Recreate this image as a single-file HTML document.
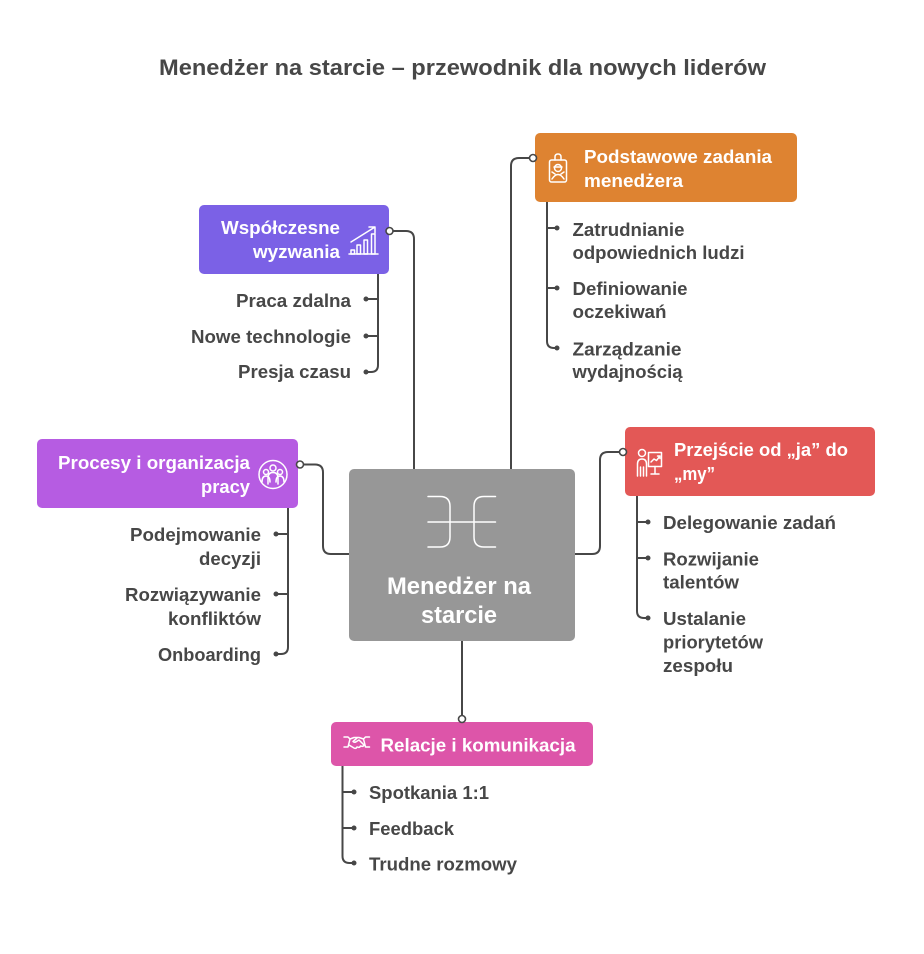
<!DOCTYPE html>
<html><head><meta charset="utf-8"><style>
html,body{margin:0;padding:0;background:#fff;}
svg{display:block;}
text{font-family:"Liberation Sans","DejaVu Sans",sans-serif;font-weight:bold;}
.t{font-size:18px;fill:#474747;}
.h{font-size:18px;fill:#fff;}
.ln{fill:none;stroke:#474747;stroke-width:2;}
.ic{fill:none;stroke:#fff;stroke-width:1.5;stroke-linecap:round;stroke-linejoin:round;}
</style></head><body>
<svg width="924" height="954" viewBox="0 0 924 954" xmlns="http://www.w3.org/2000/svg">
<rect width="924" height="954" fill="#fff"/>
<text x="159" y="75" font-size="22" fill="#474747" textLength="607" lengthAdjust="spacingAndGlyphs">Menedżer na starcie – przewodnik dla nowych liderów</text>

<!-- main connectors -->
<path class="ln" d="M393 231 H406 Q414 231 414 239 V469"/>
<path class="ln" d="M529 158 H519 Q511 158 511 166 V469"/>
<path class="ln" d="M304 464.5 H315 Q323 464.5 323 472.5 V546 Q323 554 331 554 H349"/>
<path class="ln" d="M619 452 H608 Q600 452 600 460 V546 Q600 554 592 554 H575"/>
<path class="ln" d="M462 641 V715"/>

<!-- central -->
<rect x="349" y="469" width="226" height="172" rx="5" fill="#979797"/>
<path class="ic" d="M428 496.5 H440 Q450 496.5 450 506.5 V537 Q450 547 440 547 H428"/>
<path class="ic" d="M495.5 496.5 H484 Q474 496.5 474 506.5 V537 Q474 547 484 547 H495.5"/>
<path class="ic" d="M428 522 H495.5"/>
<text x="387" y="594" font-size="24" fill="#fff" textLength="144" lengthAdjust="spacingAndGlyphs">Menedżer na</text>
<text x="421" y="623" font-size="24" fill="#fff" textLength="76" lengthAdjust="spacingAndGlyphs">starcie</text>

<!-- Współczesne wyzwania -->
<rect x="199" y="205" width="190" height="69" rx="5" fill="#7B61E6"/>
<text class="h" x="340" y="234" text-anchor="end" textLength="119" lengthAdjust="spacingAndGlyphs">Współczesne</text>
<text class="h" x="340" y="258" text-anchor="end" textLength="87" lengthAdjust="spacingAndGlyphs">wyzwania</text>
<g class="ic">
<path d="M351 242 L375 227 M369 227 H375 V233"/>
<path d="M349 254 H378"/>
<rect x="351" y="250" width="3.5" height="4"/>
<rect x="357" y="245" width="3.5" height="9"/>
<rect x="364" y="240" width="3.5" height="14"/>
<rect x="371.5" y="234" width="3.5" height="20"/>
</g>
<path class="ln" d="M378 274 V365 Q378 372 371 372 H366 M378 299 H366 M378 336 H366"/>
<circle cx="366" cy="299" r="2.5" fill="#474747"/><circle cx="366" cy="336" r="2.5" fill="#474747"/><circle cx="366" cy="372" r="2.5" fill="#474747"/>
<text class="t" x="351" y="307" text-anchor="end" textLength="115" lengthAdjust="spacingAndGlyphs">Praca zdalna</text>
<text class="t" x="351" y="343" text-anchor="end" textLength="160" lengthAdjust="spacingAndGlyphs">Nowe technologie</text>
<text class="t" x="351" y="378" text-anchor="end" textLength="113" lengthAdjust="spacingAndGlyphs">Presja czasu</text>
<circle cx="389.5" cy="231" r="3.5" fill="#fff" stroke="#474747" stroke-width="1.6"/>

<!-- Podstawowe zadania -->
<rect x="535" y="133" width="262" height="69" rx="5" fill="#DE8331"/>
<g class="ic">
<rect x="549.5" y="160" width="17" height="22" rx="2"/>
<path d="M555 160 V157 Q555 154 558 154 Q561 154 561 157 V160"/>
<circle cx="558" cy="168" r="3.5"/>
<path d="M554 167 H562"/>
<path d="M552 179 Q558 170 564 179 M555 174 L552 172 M561 174 L564 172"/>
</g>
<text class="h" x="584" y="163" textLength="188" lengthAdjust="spacingAndGlyphs">Podstawowe zadania</text>
<text class="h" x="584" y="187" textLength="99" lengthAdjust="spacingAndGlyphs">menedżera</text>
<path class="ln" d="M547 202 V341 Q547 348 554 348 H557 M547 228 H557 M547 288 H557"/>
<circle cx="557" cy="228" r="2.5" fill="#474747"/><circle cx="557" cy="288" r="2.5" fill="#474747"/><circle cx="557" cy="348" r="2.5" fill="#474747"/>
<text class="t" x="572.5" y="236" textLength="112" lengthAdjust="spacingAndGlyphs">Zatrudnianie</text>
<text class="t" x="572.5" y="259" textLength="172" lengthAdjust="spacingAndGlyphs">odpowiednich ludzi</text>
<text class="t" x="572.5" y="295" textLength="115" lengthAdjust="spacingAndGlyphs">Definiowanie</text>
<text class="t" x="572.5" y="318" textLength="94" lengthAdjust="spacingAndGlyphs">oczekiwań</text>
<text class="t" x="572.5" y="355.5" textLength="109" lengthAdjust="spacingAndGlyphs">Zarządzanie</text>
<text class="t" x="572.5" y="378" textLength="110" lengthAdjust="spacingAndGlyphs">wydajnością</text>
<circle cx="533" cy="158" r="3.5" fill="#fff" stroke="#474747" stroke-width="1.6"/>

<!-- Procesy -->
<rect x="37" y="439" width="261" height="69" rx="5" fill="#B65CE2"/>
<text class="h" x="250" y="469" text-anchor="end" textLength="192" lengthAdjust="spacingAndGlyphs">Procesy i organizacja</text>
<text class="h" x="250" y="493" text-anchor="end" textLength="49" lengthAdjust="spacingAndGlyphs">pracy</text>
<g class="ic">
<circle cx="273" cy="474.5" r="14"/>
<circle cx="266" cy="472" r="2.5"/>
<circle cx="273" cy="468" r="3"/>
<circle cx="280" cy="472" r="2.5"/>
<path d="M262 482 Q262 476 266 476 Q270 476 270 482"/>
<path d="M268 484 V478 Q268 472.5 273 472.5 Q278 472.5 278 478 V484"/>
<path d="M276 482 Q276 476 280 476 Q284 476 284 482"/>
</g>
<path class="ln" d="M288 508 V647 Q288 654 281 654 H276 M288 534 H276 M288 594 H276"/>
<circle cx="276" cy="534" r="2.5" fill="#474747"/><circle cx="276" cy="594" r="2.5" fill="#474747"/><circle cx="276" cy="654" r="2.5" fill="#474747"/>
<text class="t" x="261" y="541" text-anchor="end" textLength="131" lengthAdjust="spacingAndGlyphs">Podejmowanie</text>
<text class="t" x="261" y="565" text-anchor="end" textLength="62" lengthAdjust="spacingAndGlyphs">decyzji</text>
<text class="t" x="261" y="601" text-anchor="end" textLength="136" lengthAdjust="spacingAndGlyphs">Rozwiązywanie</text>
<text class="t" x="261" y="625" text-anchor="end" textLength="93" lengthAdjust="spacingAndGlyphs">konfliktów</text>
<text class="t" x="261" y="661" text-anchor="end" textLength="103" lengthAdjust="spacingAndGlyphs">Onboarding</text>
<circle cx="300" cy="464.5" r="3.5" fill="#fff" stroke="#474747" stroke-width="1.6"/>

<!-- Przejście -->
<rect x="625" y="427" width="250" height="69" rx="5" fill="#E35856"/>
<g class="ic">
<circle cx="642" cy="453" r="3.5"/>
<path d="M637.5 476 V464 Q637.5 459 642 459 Q646.5 459 646.5 464 V476 M640.5 467 V476 M643.5 467 V476"/>
<rect x="648.5" y="452.5" width="13" height="14"/>
<path d="M655 466.5 V474 M651 474 H659"/>
<path d="M651 462 L654 459 L656.5 460.5 L660 456 M657.5 456 H660 V458.5"/>
</g>
<text class="h" x="674" y="456" textLength="174" lengthAdjust="spacingAndGlyphs">Przejście od „ja” do</text>
<text class="h" x="674" y="480" textLength="41" lengthAdjust="spacingAndGlyphs">„my”</text>
<path class="ln" d="M637 496 V611 Q637 618 644 618 H648 M637 522 H648 M637 558 H648"/>
<circle cx="648" cy="522" r="2.5" fill="#474747"/><circle cx="648" cy="558" r="2.5" fill="#474747"/><circle cx="648" cy="618" r="2.5" fill="#474747"/>
<text class="t" x="663" y="529" textLength="173" lengthAdjust="spacingAndGlyphs">Delegowanie zadań</text>
<text class="t" x="663" y="565.5" textLength="96" lengthAdjust="spacingAndGlyphs">Rozwijanie</text>
<text class="t" x="663" y="588.5" textLength="76" lengthAdjust="spacingAndGlyphs">talentów</text>
<text class="t" x="663" y="625" textLength="83" lengthAdjust="spacingAndGlyphs">Ustalanie</text>
<text class="t" x="663" y="648.5" textLength="100" lengthAdjust="spacingAndGlyphs">priorytetów</text>
<text class="t" x="663" y="672" textLength="70" lengthAdjust="spacingAndGlyphs">zespołu</text>
<circle cx="623" cy="452" r="3.5" fill="#fff" stroke="#474747" stroke-width="1.6"/>

<!-- Relacje -->
<rect x="331" y="722" width="262" height="44" rx="5" fill="#DD55A9"/>
<g class="ic">
<path d="M344 737 H348 L350 739 L348 747 H344"/>
<path d="M369.5 737 H365.5 L363.5 739 L365.5 747 H369.5"/>
<path d="M350 739 L354 737.5 H359 L363.5 739"/>
<path d="M357 738 L353 741.5 Q354.5 743 356.5 741.5 L359 740 L364 745 Q363 747 361 746 M360.5 746 Q359.5 748 357.5 747 M357 747 Q356 749 354 748 L349 745"/>
</g>
<text class="h" x="380.5" y="751.5" textLength="195" lengthAdjust="spacingAndGlyphs">Relacje i komunikacja</text>
<path class="ln" d="M342.5 766 V856 Q342.5 863 349.5 863 H354 M342.5 792 H354 M342.5 828 H354"/>
<circle cx="354" cy="792" r="2.5" fill="#474747"/><circle cx="354" cy="828" r="2.5" fill="#474747"/><circle cx="354" cy="863" r="2.5" fill="#474747"/>
<text class="t" x="369" y="799" textLength="120" lengthAdjust="spacingAndGlyphs">Spotkania 1:1</text>
<text class="t" x="369" y="835" textLength="85" lengthAdjust="spacingAndGlyphs">Feedback</text>
<text class="t" x="369" y="870.5" textLength="148" lengthAdjust="spacingAndGlyphs">Trudne rozmowy</text>
<circle cx="462" cy="719" r="3.5" fill="#fff" stroke="#474747" stroke-width="1.6"/>
</svg>
</body></html>
